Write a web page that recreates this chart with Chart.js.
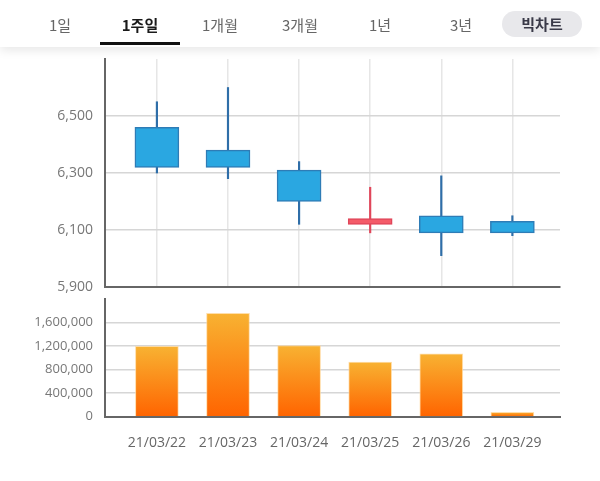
<!DOCTYPE html>
<html>
<head>
<meta charset="utf-8">
<script src="https://cdn.jsdelivr.net/npm/chart.js@4/dist/chart.umd.min.js"></script>
<style>
  html, body { margin: 0; padding: 0; background: #fff; width: 600px; height: 481px; overflow: hidden; }
  body { position: relative; font-family: "Noto Sans CJK KR", sans-serif; }
  #header { position: absolute; left: 0; top: 0; width: 600px; height: 47px; background: #fff;
            box-shadow: 0 3px 10px rgba(0,0,0,0.10); z-index: 2; }
  .tab { position: absolute; top: 12px; width: 80px; margin-left: -40px; text-align: center;
         font-size: 15px; color: #666; line-height: 26px; }
  .tab.on { color: #1a1a1a; font-weight: bold; }
  #bar { position: absolute; left: 100px; top: 42px; width: 80px; height: 3px; background: #111; }
  #big { position: absolute; left: 502px; top: 11px; width: 80px; height: 26px; border-radius: 13px;
         background: #e8e8eb; color: #3a3a48; font-weight: bold; font-size: 15px; line-height: 26px; text-align: center; }
  canvas { position: absolute; left: 0; }
  #price { top: 50px; }
  #volume { top: 290px; }
</style>
</head>
<body>
<div id="header">
  <div class="tab" style="left:60px">1일</div>
  <div class="tab on" style="left:140px">1주일</div>
  <div class="tab" style="left:220px">1개월</div>
  <div class="tab" style="left:300px">3개월</div>
  <div class="tab" style="left:380px">1년</div>
  <div class="tab" style="left:461px">3년</div>
  <div id="big">빅차트</div>
  <div id="bar"></div>
</div>
<canvas id="price" width="600" height="245"></canvas>
<canvas id="volume" width="600" height="191"></canvas>
<script>
// 일별 시세 (21/03/22 ~ 21/03/29)
var dates = ['21/03/22', '21/03/23', '21/03/24', '21/03/25', '21/03/26', '21/03/29'];
var openPrices  = [6460, 6380, 6310, 6120, 6150, 6130];
var highPrices  = [6550, 6600, 6340, 6250, 6290, 6150];
var lowPrices   = [6300, 6280, 6120, 6090, 6010, 6080];
var closePrices = [6320, 6320, 6200, 6140, 6090, 6090];
var volumes     = [1195000, 1755000, 1210000, 930000, 1070000, 75000];
var priceTicks  = [5900, 6100, 6300, 6500];
var volumeTicks = [0, 400000, 800000, 1200000, 1600000];

Chart.defaults.font.family = '"Open Sans", sans-serif';
Chart.defaults.color = '#777';

var upFill = '#f45b69', upLine = '#e0465a';
var downFill = '#2aa7e1', downLine = '#2e7cb6', downWick = '#2f6ea8';

function isUp(i){ return closePrices[i] >= openPrices[i]; }

// x축 공통 (인덱스 기준 선형 축)
var xMin = -0.73, xMax = 5.67;
function indexTicks(scale){
  scale.ticks = dates.map(function(d, i){ return {value: i}; });
}
// 라벨 때문에 생기는 여백 제거
function noPad(s){
  s.paddingTop = 0; s.paddingBottom = 0; s.paddingLeft = 0; s.paddingRight = 0;
}

// 캔들 차트
var bodies = [], wicks = [];
dates.forEach(function(d, i){
  bodies.push({x: i, y: [openPrices[i], closePrices[i]]});
  wicks.push({x: i, y: [lowPrices[i], highPrices[i]]});
});

new Chart(document.querySelector('#price'), {
  type: 'bar',
  data: {
    datasets: [
      {
        data: bodies,
        grouped: false,
        barThickness: 44,
        borderWidth: 1.5,
        borderSkipped: false,
        backgroundColor: dates.map(function(d, i){ return isUp(i) ? upFill : downFill; }),
        borderColor: dates.map(function(d, i){ return isUp(i) ? upLine : downLine; })
      },
      {
        data: wicks,
        grouped: false,
        barThickness: 1.5,
        borderWidth: 0,
        backgroundColor: dates.map(function(d, i){ return isUp(i) ? upLine : downWick; })
      }
    ]
  },
  options: {
    responsive: false,
    animation: false,
    layout: { padding: { top: 9, right: 40, left: 0, bottom: 0 } },
    plugins: { legend: { display: false }, tooltip: { enabled: false } },
    scales: {
      x: {
        type: 'linear', min: xMin, max: xMax, offset: false,
        afterBuildTicks: indexTicks,
        afterFit: function(s){ s.height = 8; noPad(s); },
        ticks: { display: false },
        grid: { color: '#e6e6e6', lineWidth: 1.5, drawTicks: false, offset: false },
        border: { color: '#666', width: 2 }
      },
      y: {
        min: 5900, max: 6700,
        afterBuildTicks: function(s){ s.ticks = priceTicks.map(function(v){ return {value: v}; }); },
        afterFit: function(s){ s.width = 105; noPad(s); },
        ticks: { padding: 12, font: { size: 14 }, color: '#777',
                 callback: function(v){ return v.toLocaleString('en-US'); } },
        grid: { color: '#d6d6d6', lineWidth: 1.5, drawTicks: false },
        border: { color: '#666', width: 2 }
      }
    }
  }
});

// 거래량 차트
function volumeGradient(ctx){
  var chart = ctx.chart;
  if(!chart.chartArea || ctx.raw == null) return '#fb8a1c';
  var y = chart.scales.y;
  var top = y.getPixelForValue(ctx.raw.y);
  var bottom = y.getPixelForValue(0);
  if(!isFinite(top) || bottom - top < 1) return '#fb8a1c';
  var g = chart.ctx.createLinearGradient(0, top, 0, bottom);
  g.addColorStop(0, '#f8b232');
  g.addColorStop(1, '#ff6400');
  return g;
}

new Chart(document.querySelector('#volume'), {
  type: 'bar',
  data: {
    datasets: [{
      data: volumes.map(function(v, i){ return {x: i, y: v}; }),
      barThickness: 43,
      borderWidth: 1,
      borderSkipped: 'start',
      borderColor: 'rgba(255, 214, 150, 0.8)',
      backgroundColor: volumeGradient
    }]
  },
  options: {
    responsive: false,
    animation: false,
    layout: { padding: { top: 9, right: 40, left: 0, bottom: 0 } },
    plugins: { legend: { display: false }, tooltip: { enabled: false } },
    scales: {
      x: {
        type: 'linear', min: xMin, max: xMax, offset: false,
        afterBuildTicks: indexTicks,
        afterFit: function(s){ s.height = 64.3; noPad(s); },
        ticks: { padding: 18, font: { size: 14 }, color: '#666', maxRotation: 0, autoSkip: false,
                 callback: function(v){ return dates[v]; } },
        grid: { display: false, drawTicks: false, offset: false },
        border: { color: '#666', width: 2 }
      },
      y: {
        min: 0, max: 2000000,
        afterBuildTicks: function(s){ s.ticks = volumeTicks.map(function(v){ return {value: v}; }); },
        afterFit: function(s){ s.width = 105; noPad(s); },
        ticks: { padding: 12, font: { size: 13 }, color: '#777',
                 callback: function(v){ return v.toLocaleString('en-US'); } },
        grid: { color: '#d6d6d6', lineWidth: 1.5, drawTicks: false },
        border: { color: '#666', width: 2 }
      }
    }
  }
});
</script>
</body>
</html>
